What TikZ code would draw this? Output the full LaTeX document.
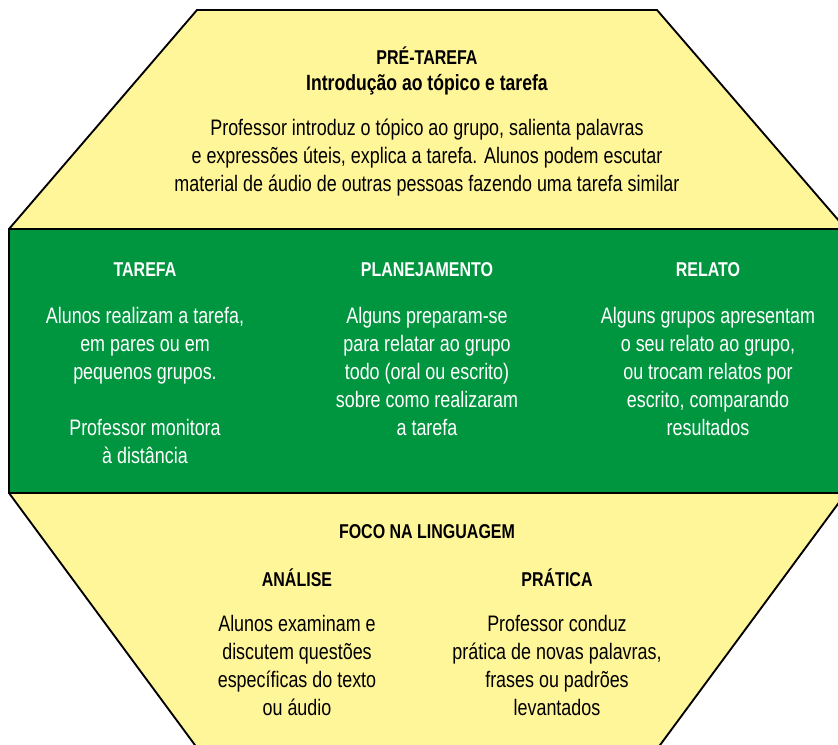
\documentclass[tikz,border=0pt]{standalone}
\usepackage{fontspec}
\setmainfont{Liberation Sans}[FakeStretch=0.8]
\usetikzlibrary{positioning}
\definecolor{amarelo}{RGB}{255,245,153}
\definecolor{verde}{RGB}{0,150,64}
\begin{document}
\begin{tikzpicture}[x=0.75pt,y=-0.75pt,
	titulo/.style={font=\bfseries\fontsize{15}{21.5}\selectfont,align=center,inner sep=0pt},
	texto/.style={font=\fontsize{16.8}{21}\selectfont,align=center,inner sep=0pt}]
			\useasboundingbox (0,0) rectangle (838,745);
			\clip (0,0) rectangle (838,745);
			\draw[fill=amarelo, line width=1.4pt] (197,10)--(657,10)--(846,229)--(846,493)--(649,760)--(206,760)--(9,493)--(9,229)--cycle;
			\draw[fill=verde, line width=1.8pt] (9,229) rectangle (846,493);
			% pre-tarefa
			\node[titulo] (pre) at (427,56) {PRÉ-TAREFA};
			\node[titulo, font=\bfseries\fontsize{16.5}{21}\selectfont] (intro) at (427,85) {Introdução ao tópico e tarefa};
			\node[texto] (pretxt) at (427,158) {Professor introduz o tópico ao grupo, salienta palavras\\e expressões úteis, explica a tarefa. Alunos podem escutar\\material de áudio de outras pessoas fazendo uma tarefa similar};
			% ciclo da tarefa
			\node[titulo, white] (tar) at (145,270) {TAREFA};
			\node[texto, white] (tartxt) at (145,385) {Alunos realizam a tarefa,\\em pares ou em\\pequenos grupos.\\[21pt]Professor monitora\\à distância};
			\node[titulo, white] (plan) at (427,270) {PLANEJAMENTO};
			\node[texto, white] (plantxt) at (427,371) {Alguns preparam-se\\para relatar ao grupo\\todo (oral ou escrito)\\sobre como realizaram\\a tarefa};
			\node[titulo, white] (rel) at (708,270) {RELATO};
			\node[texto, white] (reltxt) at (708,371) {Alguns grupos apresentam\\o seu relato ao grupo,\\ou trocam relatos por\\escrito, comparando\\resultados};
			% foco na linguagem
			\node[titulo] (foco) at (427,532) {FOCO NA LINGUAGEM};
			\node[titulo] (ana) at (297,578) {ANÁLISE};
			\node[texto] (anatxt) at (297,665) {Alunos examinam e\\discutem questões\\específicas do texto\\ou áudio};
			\node[titulo] (pra) at (557,578) {PRÁTICA};
			\node[texto] (pratxt) at (557,665) {Professor conduz\\prática de novas palavras,\\frases ou padrões\\levantados};
\end{tikzpicture}
\end{document}
